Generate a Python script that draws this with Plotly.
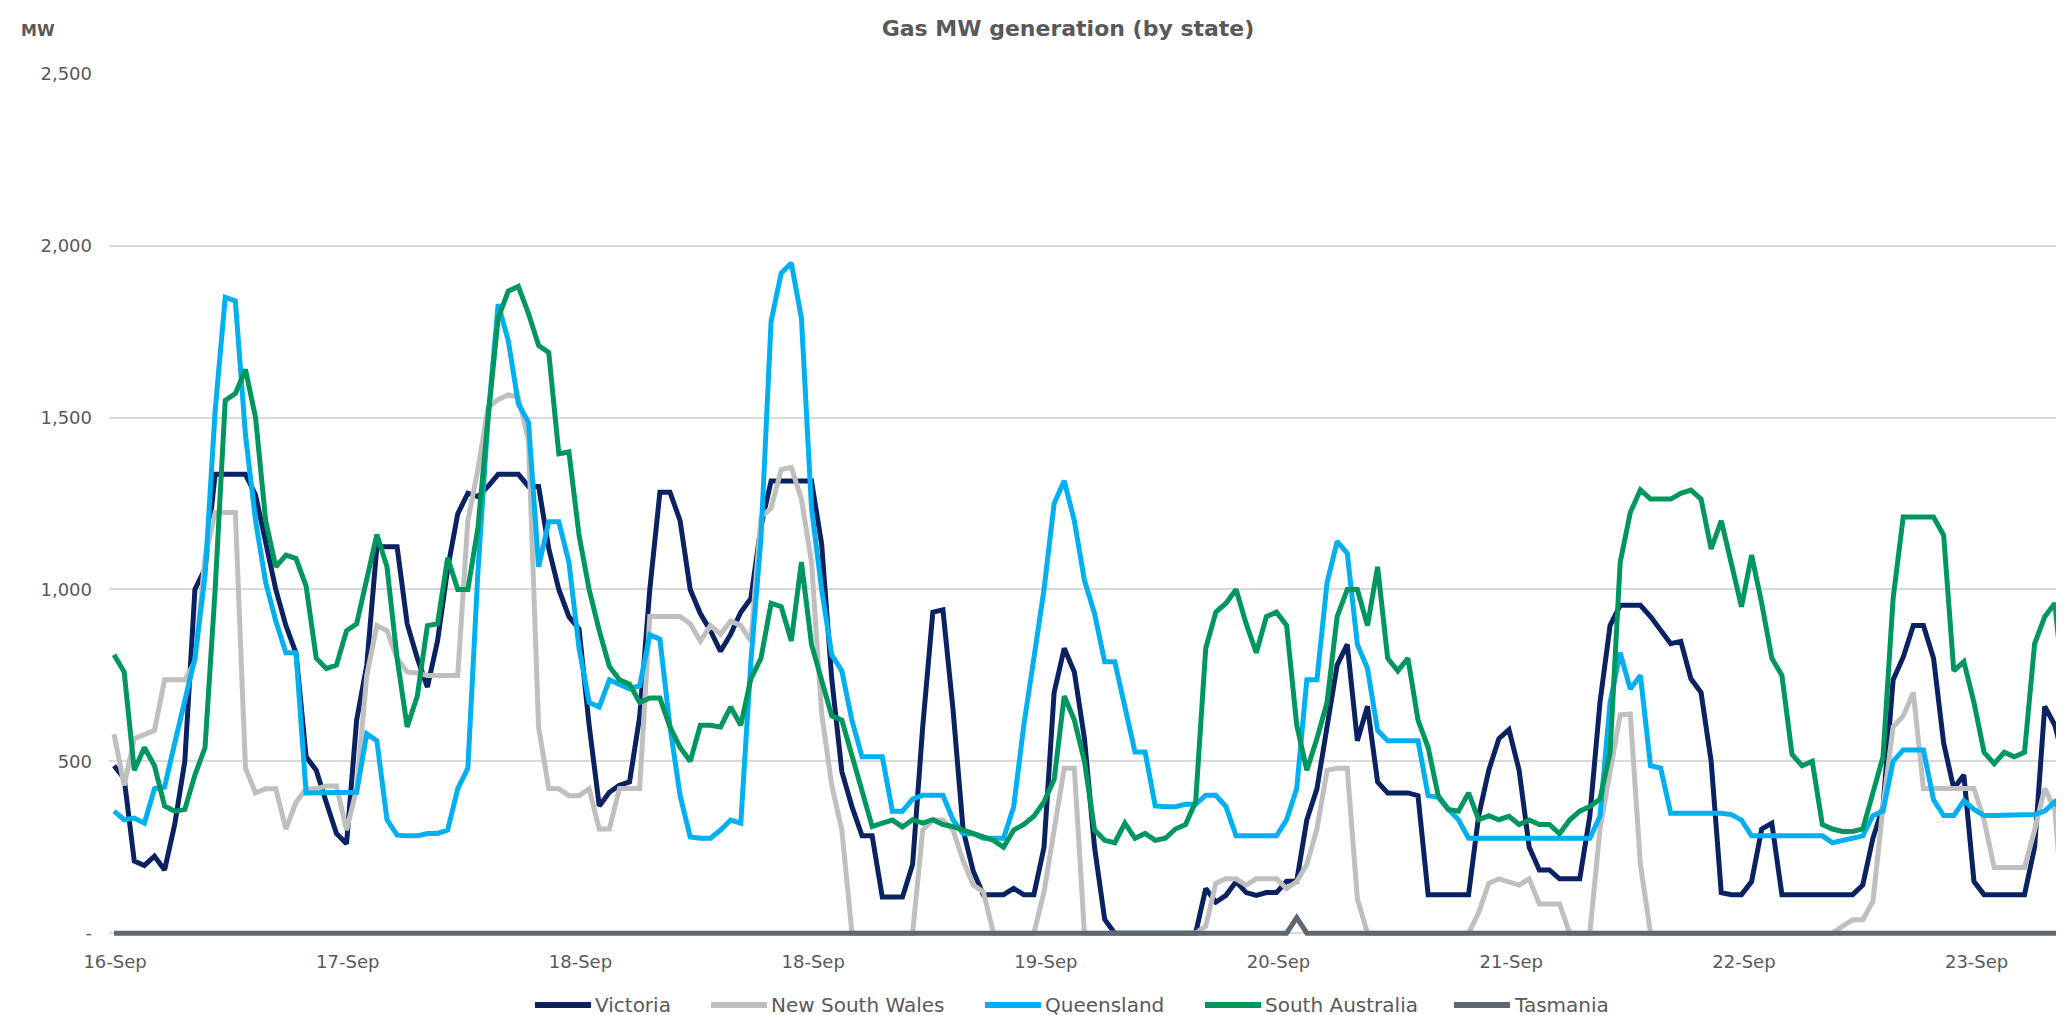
import plotly.graph_objects as go

# x positions in hours from the first reading; a date label every ~23 h
tick_labels = ["16-Sep", "17-Sep", "18-Sep", "18-Sep", "19-Sep", "20-Sep", "21-Sep", "22-Sep", "23-Sep"]
label_first_hour = 0.1
label_step_hours = 23.02

victoria = [
    487, 450, 210, 197, 224, 184, 316, 500, 1000, 1060,
    1335, 1335, 1335, 1335, 1275, 1130, 1000, 895, 815, 513,
    474, 380, 290, 260, 620, 780, 1124, 1124, 1124, 900,
    800, 716, 850, 1060, 1220, 1280, 1270, 1300, 1335, 1335,
    1335, 1300, 1300, 1120, 1000, 921, 885, 605, 370, 410,
    430, 440, 630, 1000, 1283, 1283, 1200, 1000, 930, 880,
    820, 870, 934, 974, 1184, 1316, 1316, 1316, 1316, 1316,
    1132, 740, 470, 368, 283, 283, 105, 105, 105, 200,
    600, 934, 941, 650, 300, 180, 112, 112, 112, 130,
    112, 112, 250, 700, 829, 760, 566, 250, 40, 0,
    0, 0, 0, 0, 0, 0, 0, 0, 130, 90,
    110, 150, 118, 110, 118, 118, 151, 151, 330, 420,
    600, 780, 840, 560, 660, 440, 408, 408, 408, 400,
    112, 112, 112, 112, 112, 342, 474, 566, 592, 474,
    250, 184, 184, 158, 158, 158, 342, 671, 895, 954,
    954, 954, 921, 880, 842, 849, 740, 700, 500, 118,
    112, 112, 150, 303, 320, 112, 112, 112, 112, 112,
    112, 112, 112, 140, 276, 368, 737, 803, 895, 895,
    800, 553, 421, 460, 150, 112, 112, 112, 112, 112,
    250, 660, 605, 490,
]

new_south_wales = [
    579, 430, 566, 580, 590, 737, 737, 737, 790, 1092,
    1224, 1224, 1224, 480, 408, 420, 420, 303, 380, 420,
    420, 428, 428, 300, 420, 750, 895, 880, 800, 760,
    757, 750, 750, 750, 750, 1200, 1350, 1530, 1553, 1566,
    1560, 1434, 600, 421, 420, 400, 400, 420, 303, 303,
    421, 421, 421, 921, 921, 921, 921, 900, 850, 895,
    870, 908, 895, 850, 1210, 1237, 1349, 1355, 1263, 1080,
    640, 430, 300, 0, 0, 0, 0, 0, 0, 0,
    300, 329, 329, 300, 210, 140, 120, 0, 0, 0,
    0, 0, 120, 300, 480, 480, 0, 0, 0, 0,
    0, 0, 0, 0, 0, 0, 0, 0, 20, 145,
    158, 158, 140, 158, 158, 158, 130, 150, 200, 303,
    474, 480, 480, 100, 0, 0, 0, 0, 0, 0,
    0, 0, 0, 0, 0, 60, 145, 158, 150, 140,
    158, 85, 85, 85, 0, 0, 0, 303, 474, 635,
    638, 200, 0, 0, 0, 0, 0, 0, 0, 0,
    0, 0, 0, 0, 0, 0, 0, 0, 0, 0,
    0, 20, 39, 39, 92, 368, 600, 632, 700, 421,
    421, 421, 421, 421, 421, 329, 191, 191, 191, 191,
    300, 421, 360, 0,
]

queensland = [
    355, 330, 335, 320, 420, 425, 553, 670, 800, 1040,
    1520, 1850, 1840, 1450, 1200, 1020, 908, 816, 816, 408,
    408, 408, 408, 410, 410, 580, 560, 330, 285, 283,
    283, 290, 290, 300, 420, 480, 1053, 1500, 1830, 1724,
    1540, 1487, 1066, 1197, 1197, 1079, 829, 671, 658, 737,
    724, 711, 720, 868, 855, 600, 400, 280, 276, 276,
    300, 329, 320, 790, 1150, 1780, 1920, 1950, 1790, 1237,
    1000, 810, 763, 618, 513, 513, 513, 355, 355, 390,
    401, 401, 401, 329, 289, 289, 276, 276, 276, 368,
    605, 800, 1000, 1250, 1316, 1200, 1026, 930, 790, 790,
    650, 527, 527, 370, 368, 368, 375, 375, 401, 401,
    368, 283, 283, 283, 283, 283, 330, 421, 737, 737,
    1020, 1140, 1105, 840, 770, 590, 560, 560, 560, 560,
    400, 395, 360, 330, 276, 276, 276, 276, 276, 276,
    276, 276, 276, 276, 276, 276, 276, 340, 671, 816,
    710, 750, 487, 480, 349, 349, 349, 349, 349, 349,
    345, 329, 283, 283, 283, 283, 283, 283, 283, 283,
    263, 270, 275, 283, 342, 355, 500, 533, 533, 533,
    388, 342, 342, 385, 360, 342, 342, 342, 342, 342,
    345, 355, 382, 342,
]

south_australia = [
    810, 760, 474, 540, 487, 370, 355, 360, 460, 540,
    1000, 1550, 1570, 1640, 1500, 1200, 1066, 1100, 1090, 1010,
    800, 770, 780, 880, 900, 1030, 1160, 1066, 800, 600,
    690, 895, 900, 1092, 1000, 1000, 1180, 1500, 1790, 1868,
    1882, 1803, 1710, 1690, 1395, 1400, 1158, 1000, 880, 776,
    737, 724, 671, 684, 684, 600, 540, 500, 605, 605,
    600, 658, 605, 740, 800, 960, 950, 850, 1080, 840,
    740, 632, 620, 513, 408, 310, 320, 329, 309, 330,
    320, 330, 316, 310, 300, 289, 280, 270, 250, 300,
    316, 340, 382, 447, 690, 620, 500, 300, 270, 263,
    320, 276, 290, 270, 276, 303, 316, 382, 829, 934,
    960, 1000, 900, 816, 921, 934, 895, 605, 474, 566,
    671, 921, 1000, 1000, 895, 1066, 800, 763, 800, 620,
    540, 400, 360, 355, 408, 330, 342, 330, 340, 316,
    329, 316, 316, 289, 329, 355, 368, 390, 526, 1079,
    1224, 1290, 1263, 1263, 1263, 1280, 1289, 1263, 1118, 1200,
    1079, 950, 1100, 960, 800, 750, 520, 487, 500, 316,
    303, 296, 296, 303, 408, 513, 974, 1211, 1211, 1211,
    1211, 1158, 763, 790, 671, 526, 493, 526, 513, 526,
    842, 921, 960, 671,
]

tasmania = [0] * 117 + [45] + [0] * 76

series = [
    ("Victoria", victoria, "#0b2262"),
    ("New South Wales", new_south_wales, "#bfbfbf"),
    ("Queensland", queensland, "#00b0f0"),
    ("South Australia", south_australia, "#00975f"),
    ("Tasmania", tasmania, "#5c6770"),
]

hours = list(range(len(victoria)))

fig = go.Figure()
for name, vals, color in series:
    fig.add_trace(go.Scatter(
        x=hours, y=vals, name=name, mode="lines",
        line=dict(color=color, width=5),
    ))

tickvals_x = [label_first_hour + i * label_step_hours for i in range(len(tick_labels))]

W, H = 2064, 1015
L, R, T, B = 101, 2, 66, 83
PW, PH = W - L - R, H - T - B
FONT = "Century Gothic, DejaVu Sans, sans-serif"
GREY = "#595959"


def px_x(px):
    return (px - L) / PW


def px_y(py):
    return (H - B - py) / PH


# manual legend (long line keys like the original)
legend_starts = [527, 703, 977, 1197, 1446]
legend_y = 997
shapes, annotations = [], []
for (name, _, color), x0 in zip(series, legend_starts):
    shapes.append(dict(type="line", xref="paper", yref="paper",
                       x0=px_x(x0), x1=px_x(x0 + 56), y0=px_y(legend_y), y1=px_y(legend_y),
                       line=dict(color=color, width=6)))
    annotations.append(dict(text=name, xref="paper", yref="paper", x=px_x(x0 + 59),
                            y=px_y(legend_y), xanchor="left", yanchor="middle", showarrow=False,
                            borderpad=0, font=dict(size=20, color=GREY, family=FONT)))

annotations.append(dict(text="<b>MW</b>", xref="paper", yref="paper", x=px_x(11),
                        xanchor="left", y=px_y(22), yanchor="middle", showarrow=False,
                        font=dict(size=16, color=GREY, family=FONT)))

fig.update_layout(
    width=W, height=H,
    margin=dict(l=L, r=R, t=T, b=B),
    plot_bgcolor="white", paper_bgcolor="white",
    font=dict(family=FONT, size=18, color=GREY),
    showlegend=False,
    title=dict(text="<b>Gas MW generation (by state)</b>", x=1060 / W, xanchor="center",
               y=1 - 20 / H, yanchor="middle", font=dict(size=22, color=GREY)),
    xaxis=dict(range=[-0.5, 193.5], tickmode="array", tickvals=tickvals_x, ticktext=tick_labels,
               showgrid=False, zeroline=False, showline=False, ticks="",
               ticklabelstandoff=9, tickfont=dict(size=18, color=GREY)),
    yaxis=dict(range=[-20, 2500], tickmode="array", tickvals=[0, 500, 1000, 1500, 2000, 2500],
               ticktext=["-", "500", "1,000", "1,500", "2,000", "2,500"],
               showgrid=True, gridcolor="#d9d9d9", gridwidth=2, zeroline=False, showline=False,
               ticks="", ticklabelstandoff=16, tickfont=dict(size=18, color=GREY)),
    shapes=shapes,
    annotations=annotations,
)

fig.write_html("out.html")
